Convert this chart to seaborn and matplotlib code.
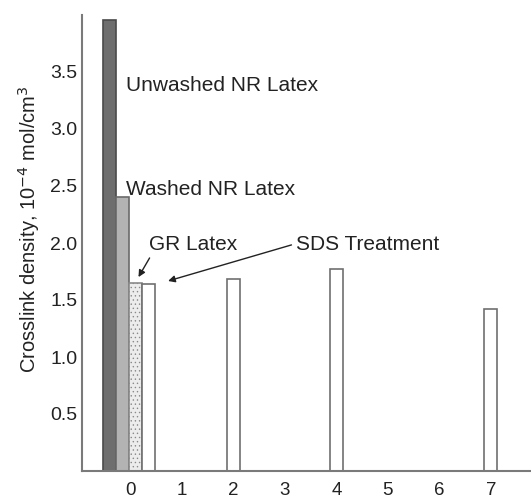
import matplotlib
matplotlib.use("Agg")
import matplotlib.pyplot as plt
import seaborn as sns
import pandas as pd

# ---- data ----
groups = ["Unwashed NR Latex", "Washed NR Latex", "GR Latex",
          "SDS Treatment", "SDS Treatment", "SDS Treatment", "SDS Treatment"]
x_pos = [-0.4, -0.15, 0.1, 0.35, 2, 4, 7]
density = [3.96, 2.40, 1.65, 1.64, 1.68, 1.77, 1.42]
x_ticks = [0, 1, 2, 3, 4, 5, 6, 7]
y_ticks = [0.5, 1.0, 1.5, 2.0, 2.5, 3.0, 3.5]

hue_order = ["Unwashed NR Latex", "Washed NR Latex", "GR Latex", "SDS Treatment"]
fills = {"Unwashed NR Latex": "#6e6e6e", "Washed NR Latex": "#b3b3b3",
         "GR Latex": "#ececec", "SDS Treatment": "#ffffff"}
edges = {"Unwashed NR Latex": "#4a4a4a", "Washed NR Latex": "#6a6a6a",
         "GR Latex": "#8a8a8a", "SDS Treatment": "#6f6f6f"}

df = pd.DataFrame({"group": groups, "x": x_pos, "y": density})

sns.set_style("white")
plt.rcParams["font.family"] = ["Liberation Sans", "DejaVu Sans"]
plt.rcParams["hatch.color"] = "#c4c4c4"
plt.rcParams["hatch.linewidth"] = 0.5

fig = plt.figure(figsize=(5.31, 5.0), dpi=100)
ax = fig.add_axes([0.1544, 0.058, 1 - 0.1544, 0.912])

sns.barplot(data=df, x="x", y="y", hue="group", hue_order=hue_order,
            palette=fills, native_scale=True, dodge=False, width=1.0,
            legend=False, ax=ax, linewidth=1.2)

for patch in ax.patches:
    fc = matplotlib.colors.to_hex(patch.get_facecolor())
    for g, c in fills.items():
        if matplotlib.colors.to_hex(c) == fc:
            patch.set_edgecolor(edges[g])
            if g == "GR Latex":
                patch.set_hatch("....")
    patch.set_linewidth(1.2)

ax.set_xlim(-0.94, 7.78)
ax.set_ylim(0, 4.0)
ax.set_xticks(x_ticks)
ax.set_yticks(y_ticks)
ax.set_xticklabels([str(t) for t in x_ticks])
ax.set_yticklabels([f"{t:.1f}" for t in y_ticks])
ax.set_xlabel("")
ax.set_ylabel(r"Crosslink density, 10$^{-4}$ mol/cm$^{3}$", fontsize=14.5, color="#222222")
ax.yaxis.set_label_coords(-0.09, 0.53)

for s in ["top", "right"]:
    ax.spines[s].set_visible(False)
for s in ["left", "bottom"]:
    ax.spines[s].set_color("#7a7a7a")
    ax.spines[s].set_linewidth(1.5)
ax.tick_params(direction="in", length=3, width=0.8, colors="#999999",
               labelsize=14, labelcolor="#222222")
ax.tick_params(axis="y", pad=3.5)
ax.tick_params(axis="x", pad=8, labelsize=13.5)

fs = 15
ax.text(-0.08, 3.38, "Unwashed NR Latex", fontsize=fs, color="#222222", va="center", ha="left")
ax.text(-0.08, 2.47, "Washed NR Latex", fontsize=fs, color="#222222", va="center", ha="left")
ax.text(0.36, 1.99, "GR Latex", fontsize=fs, color="#222222", va="center", ha="left")
ax.text(3.22, 1.99, "SDS Treatment", fontsize=fs, color="#222222", va="center", ha="left")

ax.annotate("", xy=(0.13, 1.68), xytext=(0.4, 1.89),
            arrowprops=dict(arrowstyle="-|>", color="#222222", lw=1.0, mutation_scale=10))
ax.annotate("", xy=(0.68, 1.66), xytext=(3.18, 1.99),
            arrowprops=dict(arrowstyle="-|>", color="#222222", lw=1.0, mutation_scale=10))

fig.savefig("out.png", dpi=100)
